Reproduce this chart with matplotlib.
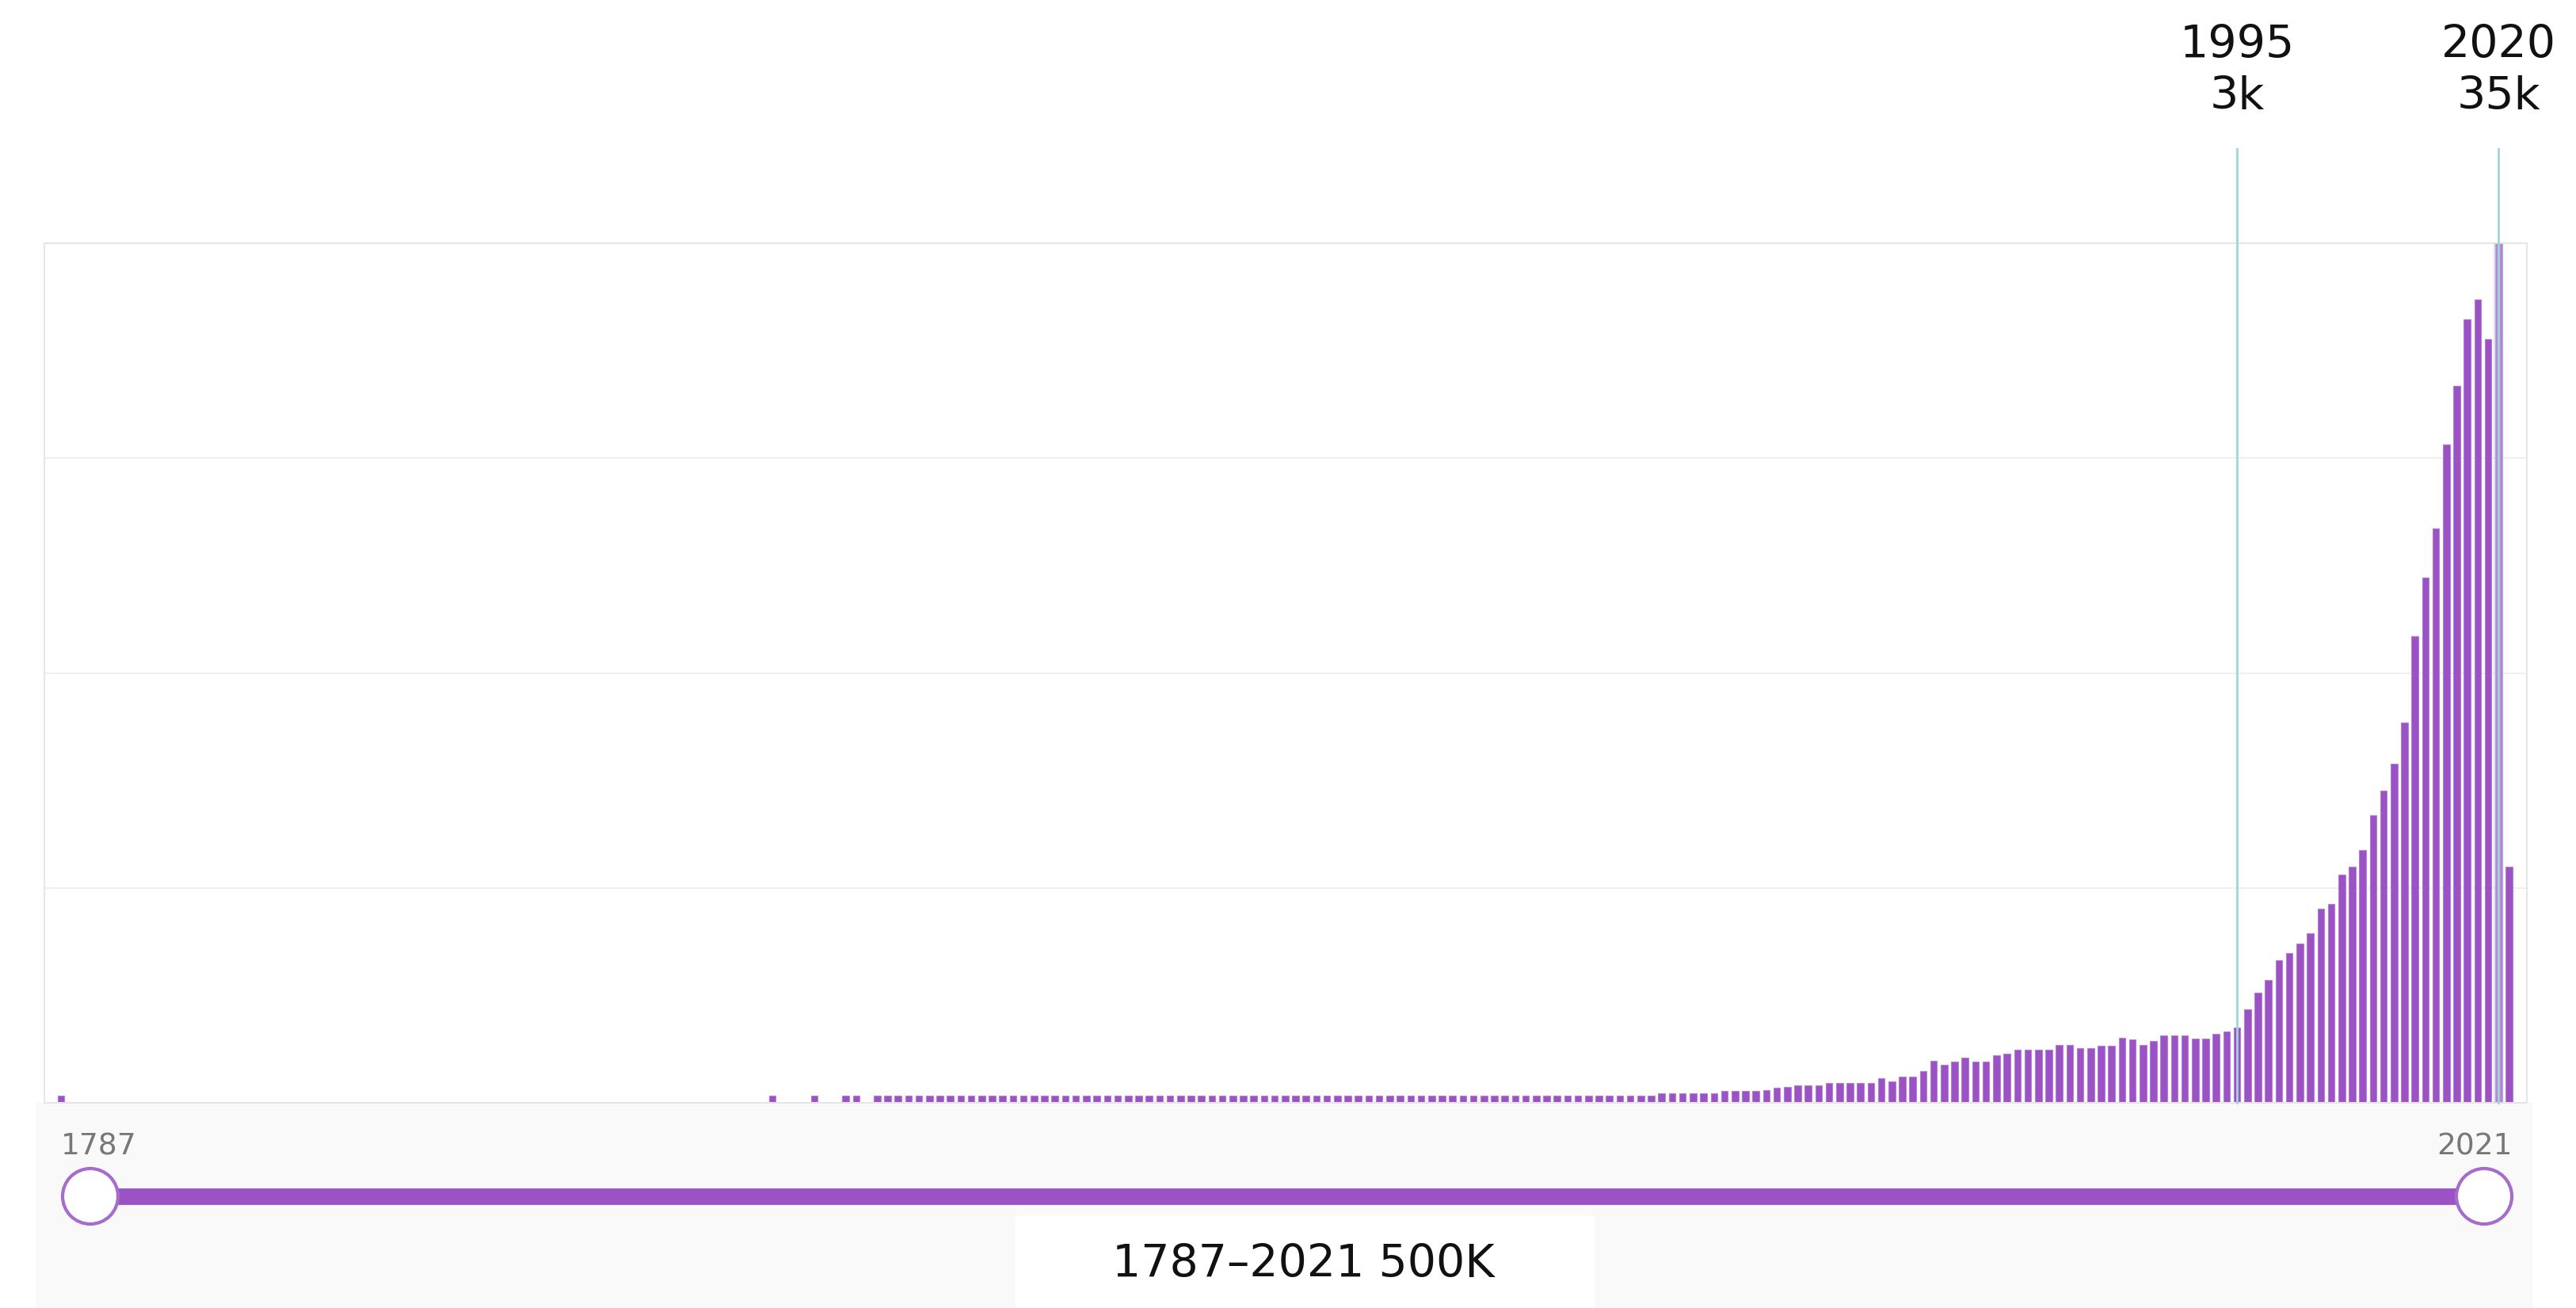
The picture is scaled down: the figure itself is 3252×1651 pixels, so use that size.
import matplotlib.pyplot as plt
from matplotlib.patches import Circle, Rectangle
from matplotlib.transforms import blended_transform_factory

# --- data (counts per year, in thousands) ---
early_years = [1787, 1855, 1859, 1862, 1863]
early_vals = [0.3, 0.3, 0.3, 0.3, 0.3]

years_1865_1939 = list(range(1865, 1940))
vals_1865_1939 = [0.3] * 75

years_1940_2021 = list(range(1940, 2022))
vals_1940_2021 = [
    0.38, 0.38, 0.38, 0.38, 0.38, 0.4,                 # 1940-45
    0.49, 0.49, 0.5, 0.5, 0.52,                        # 1946-50
    0.62, 0.65, 0.7, 0.7, 0.7,                         # 1951-55
    0.8, 0.8, 0.82, 0.8, 0.8,                          # 1956-60
    1.0, 0.86, 1.08, 1.08, 1.3, 1.7, 1.56, 1.67, 1.83, 1.67,   # 1961-70
    1.67, 1.94, 1.99, 2.16, 2.16, 2.16, 2.16, 2.37, 2.37, 2.21,  # 1971-80
    2.21, 2.32, 2.32, 2.64, 2.59, 2.37, 2.53, 2.75, 2.75, 2.75,  # 1981-90
    2.6, 2.6, 2.8, 2.9, 3.07,                          # 1991-95
    3.8, 4.5, 5.0, 5.8, 6.1, 6.5, 6.9, 7.9, 8.1, 9.3,  # 1996-2005
    9.6, 10.3, 11.7, 12.7, 13.8, 15.5, 19.0, 21.4, 23.4, 26.8,  # 2006-15
    29.2, 31.9, 32.7, 31.1, 35.0, 9.6,                 # 2016-21
]

years = early_years + years_1865_1939 + years_1940_2021
values = early_vals + vals_1865_1939 + vals_1940_2021

marked_years = [1995, 2020]
marked_labels = ["1995\n3k", "2020\n35k"]
range_label = "1787\u20132021 500K"

purple = "#9b52c4"
teal = "#9fd6d6"

W, H = 3252, 1651
fig = plt.figure(figsize=(W / 100, H / 100), dpi=100)
fig.patch.set_facecolor("white")

# background overlay in pixel coords
bg = fig.add_axes([0, 0, 1, 1])
bg.set_xlim(0, W)
bg.set_ylim(H, 0)
bg.axis("off")
bg.add_patch(Rectangle((46, 1392), 3150, 260, color="#f9f9f9", zorder=0))
bg.add_patch(Rectangle((1282, 1535), 730, 120, color="white", zorder=1))

# main bar chart
x0, x1, y0, y1 = 56, 3190, 307, 1392
ax = fig.add_axes([x0 / W, 1 - y1 / H, (x1 - x0) / W, (y1 - y0) / H])
ax.bar(years, values, width=0.65, color=purple, edgecolor="#b57fd8",
       linewidth=0.8, zorder=2)
ax.bar([2020], [35.0], width=0.9, color="#c9c3e3", alpha=0.5, zorder=3)
ax.set_xlim(1785.4, 2022.7)
ax.set_ylim(0, 35)
for g in [8.75, 17.5, 26.25]:
    ax.axhline(g, color="#efefef", lw=1.5, zorder=1)
ax.set_xticks([])
ax.set_yticks([])
for s in ax.spines.values():
    s.set_color("#e6e6e6")
    s.set_linewidth(1.5)

trans = blended_transform_factory(ax.transData, ax.transAxes)
for yr, lab in zip(marked_years, marked_labels):
    ax.axvline(yr, ymin=0, ymax=1.11, color=teal, lw=2, clip_on=False, zorder=4)
    ax.text(yr, 1.2, lab, transform=trans, ha="center", va="center",
            fontsize=41, linespacing=1.25, color="#111111")

ax.text(1787, -0.035, str(years[0]), transform=trans, ha="left", va="top",
        fontsize=27, color="#777777")
ax.text(2021.3, -0.035, str(years[-1]), transform=trans, ha="right", va="top",
        fontsize=27, color="#777777")

# slider
bg.plot([114, 3136], [1510, 1510], color=purple, lw=15, solid_capstyle="butt", zorder=2)
for cx in [114, 3136]:
    bg.add_patch(Circle((cx, 1510), 35, facecolor="white", edgecolor="#a56ccb",
                        lw=3, zorder=3))
bg.text(1645, 1597, range_label, ha="center", va="center", fontsize=41,
        color="#111111", zorder=4)

fig.savefig("out.png", dpi=100)
